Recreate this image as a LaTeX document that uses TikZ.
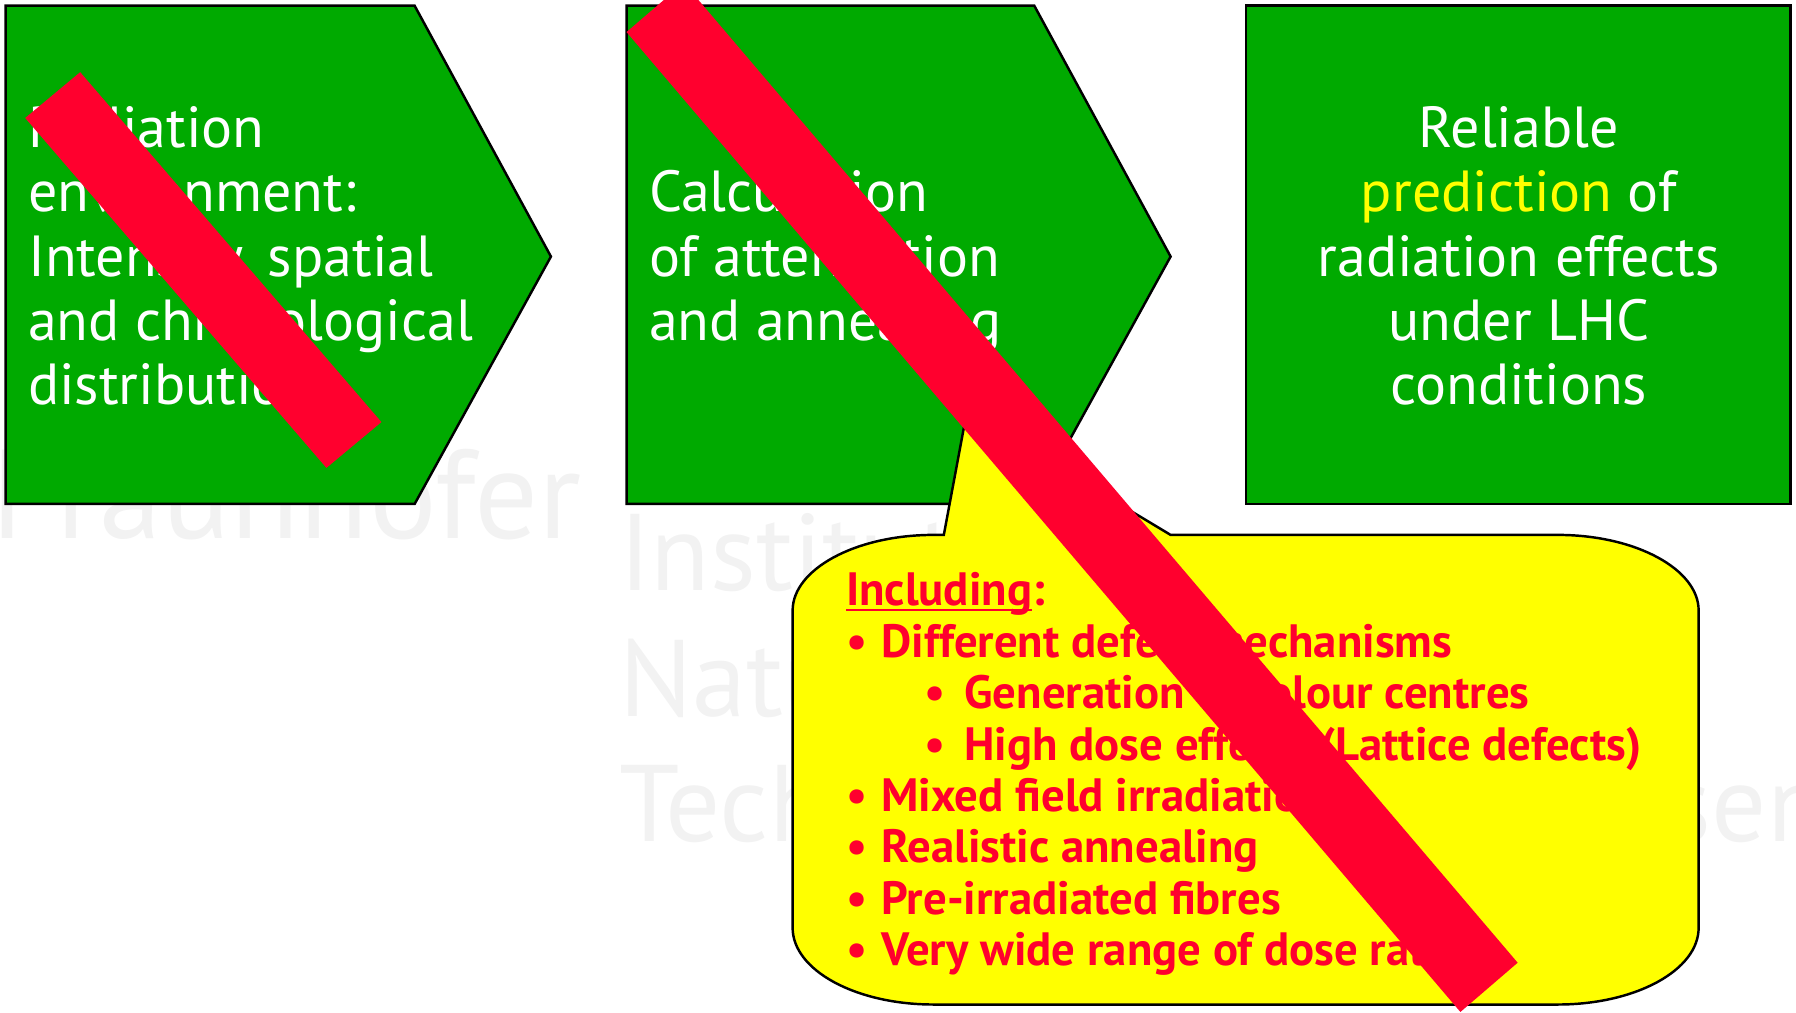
\documentclass[tikz,border=0pt]{standalone}
\usepackage{fontspec}
\setmainfont{PT Sans}
\definecolor{boxgreen}{RGB}{0, 170, 0}
\definecolor{callyellow}{RGB}{255, 255, 0}
\definecolor{crossred}{RGB}{255, 0, 46}
\definecolor{watergray}{RGB}{242, 242, 242}

\newcommand{\calloutbullet}[1]{\makebox[10.1pt][l]{\textbullet}#1}
\newcommand{\calloutsubbullet}[1]{\hspace*{22.3pt}\makebox[11.4pt][l]{\textbullet}#1}
\newcommand{\calloutunderline}[1]{\setbox0\hbox{#1}\rlap{\rule[-1.6pt]{\wd0}{0.6pt}}#1}

\tikzset{
  boxtext/.style={inner sep=0pt, text=white, font=\fontsize{16.5}{18.25}\selectfont},
  listtext/.style={inner sep=0pt, text=crossred, align=left, font=\bfseries\fontsize{13.3}{14.63}\selectfont},
  watertext/.style={inner sep=0pt, text=watergray, anchor=base west, align=left}
}

\begin{document}
\begin{tikzpicture}[x=0.011454cm, y=-0.011454cm]
            \useasboundingbox (0,0) rectangle (1568,884);
            % faint background lettering (base = last line)
            \node[watertext, font=\fontsize{36}{40}\selectfont] (fraunhofer) at (-8,470) {Fraunhofer};
            \node[watertext, font=\fontsize{31}{35.8}\selectfont] (institute) at (540,735)
                 {Institut für\\Naturwissenschaftlich-\\Technische Trendanalysen};
            % process steps
            \filldraw[black, fill=boxgreen, line width=0.7pt] (5,5) -- (362,5) -- (481,224) -- (362,440) -- (5,440) -- cycle;
            \filldraw[black, fill=boxgreen, line width=0.7pt] (547,5) -- (903,5) -- (1022,224) -- (903,440) -- (547,440) -- cycle;
            \filldraw[black, fill=boxgreen, line width=0.7pt] (1088,5) rectangle (1563,440);
            \node[boxtext, anchor=base west, align=left] (environment) at (24,353)
                 {Radiation\\environment:\\Intensity, spatial\\and chronological\\distribution};
            \node[boxtext, anchor=base west, align=left] (calculation) at (566,297)
                 {Calculation\\of attenuation\\and annealing};
            \node[boxtext, anchor=base, align=center] (prediction) at (1326,353)
                 {Reliable\\\textcolor{callyellow}{prediction} of\\radiation effects\\under LHC\\conditions};
            % callout
            \filldraw[black, fill=callyellow, line width=0.7pt]
                 (824,467) -- (844,360) -- (1022,467) -- (1360,467)
                 .. controls (1428,467) and (1483,497) .. (1483,533) -- (1483,810)
                 .. controls (1483,847) and (1428,877) .. (1360,877) -- (815,877)
                 .. controls (747,877) and (692,847) .. (692,810) -- (692,533)
                 .. controls (692,497) and (747,467) .. (815,467) -- cycle;
            \node[listtext, anchor=base west] (including) at (738,843)
                 {\calloutunderline{Including}:\\
                  \calloutbullet{Different defect mechanisms}\\
                  \calloutsubbullet{Generation of colour centres}\\
                  \calloutsubbullet{High dose effects (Lattice defects)}\\
                  \calloutbullet{Mixed field irradiation}\\
                  \calloutbullet{Realistic annealing}\\
                  \calloutbullet{Pre-irradiated fibres}\\
                  \calloutbullet{Very wide range of dose rates}};
            % crossing-out bars
            \fill[crossred] (22,103) -- (70,63) -- (333,368.5) -- (285,408.5) -- cycle;
            \fill[crossred] (547,28) -- (597,-15) -- (1325,840.5) -- (1275,883.5) -- cycle;
        \end{tikzpicture}
\end{document}
